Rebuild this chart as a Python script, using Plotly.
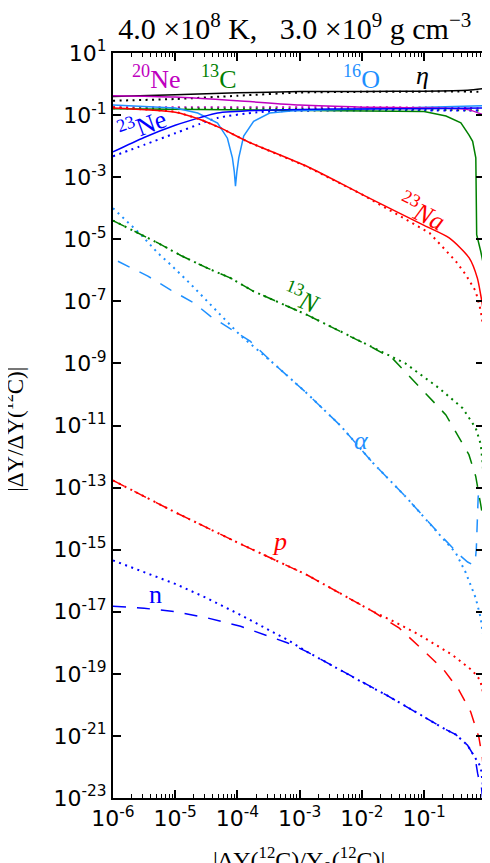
import numpy as np
import plotly.graph_objects as go

# --- data (abscissa |dY(12C)/Y0(12C)|, ordinate |dY/dY(12C)|) ---

# eta (black)
eta_x = [1e-6, 1e-5, 1e-4, 1e-3, 1e-2, 0.1, 0.5, 0.912]
eta_solid = [0.40, 0.45, 0.52, 0.57, 0.58, 0.59, 0.63, 0.71]
eta_dot = [0.29, 0.33, 0.42, 0.53, 0.56, 0.57, 0.57, 0.56]

# 20Ne (magenta)
ne20_x = [1e-6, 1e-5, 1e-4, 1e-3, 1e-2, 0.1, 0.5, 0.912]
ne20_solid = [0.42, 0.38, 0.29, 0.21, 0.18, 0.17, 0.15, 0.10]
ne20_dot = [0.18, 0.18, 0.18, 0.18, 0.18, 0.175, 0.17, 0.16]

# 13C (green)
c13_x = [1e-6, 1e-4, 1e-2, 0.1, 0.225, 0.39, 0.525, 0.603, 0.678, 0.695, 0.70, 0.813, 0.865, 0.902]
c13_solid = [0.16, 0.15, 0.14, 0.13, 0.093, 0.056, 0.023, 0.0143, 4.2e-3, 2.1e-4, 1.4e-5, 4.1e-6, 2.5e-6, 1.5e-6]
c13_dot_x = [1e-6, 1e-4, 1e-2, 0.1, 0.912]
c13_dot = [0.165, 0.16, 0.155, 0.15, 0.14]

# 16O (light blue), solid with the sign-change cusp
o16_x = [1e-6, 1e-5, 2.3e-5, 4.8e-5, 6.9e-5, 8.3e-5, 8.9e-5, 9.3e-5, 9.8e-5, 1.05e-4,
         1.26e-4, 1.82e-4, 3.3e-4, 7.9e-4, 1e-2, 0.1, 0.912]
o16_solid = [0.21, 0.17, 0.117, 0.055, 0.018, 4.2e-3, 1.5e-3, 5.1e-4, 1.5e-3, 4.2e-3,
             0.021, 0.063, 0.117, 0.138, 0.158, 0.18, 0.20]

# 23Ne (blue)
ne23_x = [1e-6, 3.16e-6, 1e-5, 2.5e-5, 4.8e-5, 2.1e-4, 1e-3, 1e-2, 0.1, 0.912]
ne23_solid = [6.5e-3, 0.019, 0.047, 0.083, 0.117, 0.141, 0.152, 0.158, 0.16, 0.17]
ne23_dot = [4.7e-3, 0.011, 0.026, 0.052, 0.081, 0.123, 0.138, 0.14, 0.14, 0.14]

# 23Na (red)
na23_x = [1e-6, 1e-5, 2.57e-5, 5.4e-5, 1.45e-4, 1.3e-3, 1e-2, 0.1, 0.253, 0.53, 0.718, 0.813, 0.865, 0.902]
na23_solid = [0.17, 0.123, 0.071, 0.038, 0.0141, 2.24e-3, 2.8e-4, 2.8e-5, 1.1e-5, 2.5e-6, 5.6e-7, 1.6e-7, 7.8e-8, 4e-8]
na23_dot_x = [1e-6, 1e-5, 2.57e-5, 5.4e-5, 1.45e-4, 1.3e-3, 1e-2, 2.45e-2, 0.122, 0.324, 0.468, 0.676, 0.813, 0.871]
na23_dot = [0.18, 0.13, 0.072, 0.038, 0.014, 2.2e-3, 2.8e-4, 1.0e-4, 1.6e-5, 1.95e-6, 7.2e-7, 2.1e-7, 5e-8, 2e-8]

# 13N (green)
n13_dot_x = [1e-6, 1.74e-6, 5.25e-6, 1.23e-5, 3.3e-5, 7.8e-5, 1.82e-4, 1.3e-3, 1.5e-2,
             5.0e-2, 0.174, 0.417, 0.676, 0.813, 0.871, 0.902]
n13_dot = [4.0e-5, 2.3e-5, 7.6e-6, 3.0e-6, 1.17e-6, 5.6e-7, 2.1e-7, 3.7e-8, 3.2e-9,
           1.0e-9, 1.6e-10, 3.6e-11, 8.3e-12, 2.5e-12, 6.3e-13, 2.0e-13]
n13_dash_x = [1e-6, 1.74e-6, 5.25e-6, 1.23e-5, 3.3e-5, 7.8e-5, 1.82e-4, 1.3e-3, 1.5e-2,
              3.16e-2, 8.9e-2, 0.224, 0.525, 0.676, 0.813, 0.865, 0.891]
n13_dash = [4.0e-5, 2.3e-5, 7.6e-6, 3.0e-6, 1.17e-6, 5.6e-7, 2.1e-7, 3.7e-8, 3.2e-9,
            1.4e-9, 1.6e-10, 2.2e-11, 1.15e-12, 2.3e-13, 2.8e-14, 1.35e-14, 6.3e-15]

# alpha (light blue)
he4_dot_x = [1e-6, 1.74e-6, 2.82e-6, 5.25e-6, 8.5e-6, 1.7e-5, 3.3e-5, 5.0e-5, 1.12e-4, 3.8e-4,
             1.3e-3, 4.5e-3, 1.5e-2, 5.1e-2, 0.176, 0.324, 0.468, 0.676, 0.813, 0.875]
he4_dot = [1.0e-4, 3.6e-5, 1.4e-5, 3.6e-6, 1.5e-6, 3.9e-7, 1.0e-7, 4.0e-8, 7.9e-9, 1.0e-9,
           1.1e-10, 1.0e-11, 6.3e-13, 5.0e-14, 3.2e-15, 7.8e-16, 1.8e-16, 2.75e-17, 6.3e-18, 2.0e-18]
he4_dash_x = [1.2e-6, 3.63e-6, 8.5e-6, 2.0e-5, 3.7e-5, 1.12e-4, 1.62e-4, 3.8e-4, 1.3e-3, 4.5e-3,
              1.5e-2, 5.1e-2, 0.176, 0.366, 0.501, 0.603, 0.66, 0.69, 0.705, 0.72, 0.74, 0.78]
he4_dash = [1.95e-6, 6.5e-7, 2.3e-7, 8.9e-8, 3.3e-8, 8.3e-9, 5.1e-9, 1.0e-9, 1.1e-10, 1.0e-11,
            6.3e-13, 5.0e-14, 3.2e-15, 6.9e-16, 4.0e-16, 3.3e-16, 4.0e-16, 1.0e-15, 4.0e-15, 1.6e-14, 5.0e-14, 1.0e-13]

# p (red)
p_dot_x = [1e-6, 1e-5, 1e-4, 1.3e-3, 1.5e-2, 3.16e-2, 8.4e-2, 0.288, 0.603, 0.794, 0.865, 0.902]
p_dot = [1.7e-13, 1.6e-14, 1.7e-15, 1.55e-16, 1.02e-17, 5.0e-18, 1.8e-18, 4.0e-19, 1.26e-19, 6.3e-20, 3.2e-20, 1.6e-20]
p_dash_x = [1e-6, 1e-5, 1e-4, 1.3e-3, 1.5e-2, 4.0e-2, 0.1, 0.209, 0.363, 0.562, 0.759, 0.865, 0.902]
p_dash = [1.7e-13, 1.6e-14, 1.7e-15, 1.55e-16, 1.02e-17, 2.95e-18, 5.4e-19, 1.32e-19, 3.0e-20, 5.9e-21, 9.1e-22, 2.0e-22, 6.3e-23]

# n (blue)
nn_dot_x = [1e-6, 3.16e-6, 1e-5, 3.16e-5, 1.12e-4, 6.3e-4, 1.3e-3, 1.5e-2, 2.45e-2, 0.224,
            0.324, 0.5, 0.708, 0.813, 0.871, 0.902]
nn_dot = [4.5e-16, 1.9e-16, 7.9e-17, 2.8e-17, 7.9e-18, 1.26e-18, 5.2e-19, 3.5e-20, 2.1e-20, 1.6e-21,
          1.1e-21, 5.0e-22, 1.6e-22, 1.0e-22, 3.2e-23, 7.9e-24]
nn_dash_x = [1e-6, 3.16e-6, 1e-5, 3.3e-5, 1.12e-4, 6.3e-4, 1.3e-3, 1.5e-2, 2.45e-2, 0.224,
             0.324, 0.5, 0.66, 0.724, 0.76, 0.83, 0.891]
nn_dash = [1.5e-17, 1.3e-17, 1.0e-17, 6.3e-18, 3.4e-18, 1.0e-18, 5.2e-19, 3.5e-20, 2.1e-20, 1.6e-21,
           1.1e-21, 5.0e-22, 2.0e-22, 6.3e-23, 4.0e-23, 2.5e-23, 6.3e-24]

# ticks
x_ticks = [1e-6, 1e-5, 1e-4, 1e-3, 1e-2, 1e-1]
y_exps = [1, -1, -3, -5, -7, -9, -11, -13, -15, -17, -19, -21, -23]

# labels: (text, x, y, colour, angle)
labels = [
    ('<sup>20</sup>Ne', 5.0e-6, 1.57, 'm', 0),
    ('<sup>13</sup>C', 5.1e-5, 1.57, 'g', 0),
    ('<sup>16</sup>O', 9.9e-3, 1.57, 'o', 0),
    ('<i>η</i>', 0.096, 1.95, 'k', 0),
    ('<sup>23</sup>Ne', 3.0e-6, 0.048, 'b', -20),
    ('<sup>23</sup><i>Na</i>', 0.096, 8.1e-5, 'r', 26),
    ('<sup>13</sup><i>N</i>', 1.08e-3, 1.3e-7, 'g', 22),
    ('<i>α</i>', 9.9e-3, 3.2e-12, 'o', 0),
    ('<i>p</i>', 4.8e-4, 1.9e-15, 'r', 0),
    ('n', 4.9e-6, 3.5e-17, 'b', 0),
]

COLORS = {'k': 'black', 'm': '#BF00BF', 'g': '#008000', 'o': '#1E90FF', 'b': '#0000FF', 'r': '#FF0000'}
DOT = '2px,4.5px'
DASH = '13px,11px'

fig = go.Figure()


def add_line(x, y, color, dash='solid', shape='spline', width=1.5):
    fig.add_trace(go.Scatter(
        x=x, y=y, mode='lines', showlegend=False, hoverinfo='skip',
        line=dict(color=COLORS[color], dash=dash, width=width, shape=shape, smoothing=0.7)
    ))


# light species first, heavy ones on top
add_line(nn_dash_x, nn_dash, 'b', DASH, 'linear')
add_line(nn_dot_x, nn_dot, 'b', DOT, 'linear', 2)
add_line(p_dash_x, p_dash, 'r', DASH, 'linear')
add_line(p_dot_x, p_dot, 'r', DOT, 'linear', 2)
add_line(he4_dash_x, he4_dash, 'o', DASH, 'linear')
add_line(he4_dot_x, he4_dot, 'o', DOT, 'linear', 2)
add_line(n13_dash_x, n13_dash, 'g', DASH, 'linear')
add_line(n13_dot_x, n13_dot, 'g', DOT, 'linear', 2)

add_line(eta_x, eta_dot, 'k', DOT, width=2)
add_line(ne20_x, ne20_dot, 'm', DOT, width=2)
add_line(c13_dot_x, c13_dot, 'g', DOT, width=2)
add_line(ne23_x, ne23_dot, 'b', DOT, width=2)
add_line(na23_dot_x, na23_dot, 'r', DOT, 'linear', 2)

add_line(c13_x, c13_solid, 'g', shape='linear')
add_line(o16_x, o16_solid, 'o', shape='linear')
add_line(eta_x, eta_solid, 'k')
add_line(ne20_x, ne20_solid, 'm')
add_line(ne23_x, ne23_solid, 'b')
add_line(na23_x, na23_solid, 'r')

for text, lx, ly, col, ang in labels:
    fig.add_annotation(
        x=np.log10(lx), y=np.log10(ly), xref='x', yref='y', text=text, showarrow=False,
        textangle=ang, font=dict(family='Liberation Serif', size=26, color=COLORS[col])
    )

# axis titles, partly cut by the page edge as in the original
fig.add_annotation(
    x=-0.268, y=0.495, xref='paper', yref='paper', xanchor='center', yanchor='middle',
    text='|ΔY/ΔY(<sup>12</sup>C)|', textangle=-90, showarrow=False,
    font=dict(family='Liberation Serif', size=23, color='black')
)
fig.add_annotation(
    x=0.5, y=-0.058, xref='paper', yref='paper', xanchor='center', yanchor='top',
    text='|ΔY(<sup>12</sup>C)/Y<sub>0</sub>(<sup>12</sup>C)|',
    showarrow=False, font=dict(family='Liberation Serif', size=24, color='black')
)

minor_x = [m * 10.0 ** e for e in range(-6, 0) for m in range(2, 10)]
fig.update_xaxes(
    type='log', range=[-6, np.log10(0.918)], showgrid=False, zeroline=False,
    showline=True, linecolor='black', linewidth=2, mirror='ticks',
    ticks='inside', ticklen=8, tickwidth=1.5, tickcolor='black',
    tickvals=x_ticks, ticktext=['10<sup>%d</sup>' % e for e in range(-6, 0)],
    tickfont=dict(family='DejaVu Sans', size=22, color='black'),
    minor=dict(tickvals=minor_x, ticks='inside', ticklen=4, tickwidth=1, tickcolor='black', showgrid=False)
)
fig.update_yaxes(
    type='log', range=[-23, 1], showgrid=False, zeroline=False,
    showline=True, linecolor='black', linewidth=2, mirror='ticks',
    ticks='inside', ticklen=8, tickwidth=1.5, tickcolor='black',
    tickvals=[10.0 ** e for e in y_exps], ticktext=['10<sup>%d</sup>' % e for e in y_exps],
    tickfont=dict(family='DejaVu Sans', size=22, color='black')
)

fig.update_layout(
    width=490, height=863,
    margin=dict(l=105, r=12, t=45, b=73),
    paper_bgcolor='white', plot_bgcolor='white',
    title=dict(
        text='4.0 ×10<sup>8</sup> K,\u00a0\u00a0\u00a03.0 ×10<sup>9</sup> g cm<sup>−3</sup>',
        x=0.49, xref='paper', xanchor='center', y=0.9757, yanchor='middle',
        font=dict(family='Liberation Serif', size=30, color='black')
    )
)

fig.write_html('out.html')
